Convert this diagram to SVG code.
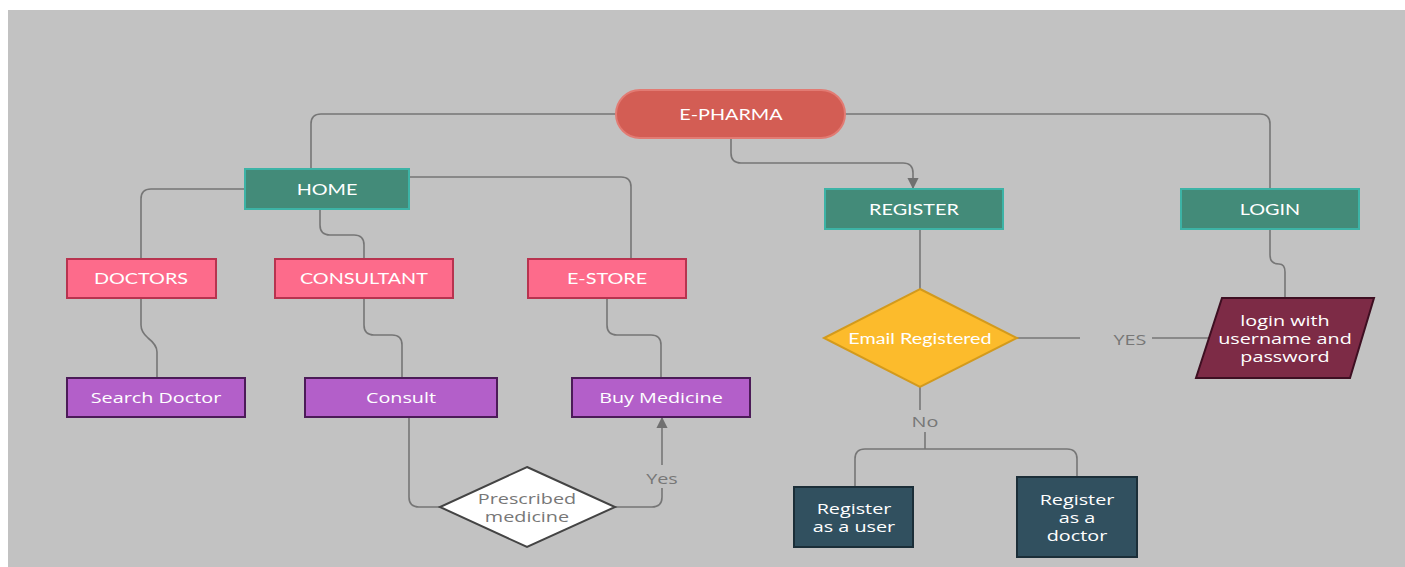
<svg xmlns="http://www.w3.org/2000/svg" width="1405" height="567" viewBox="0 0 1405 567">
<defs>
<marker id="arr" viewBox="0 0 10 10" refX="9" refY="5" markerWidth="7" markerHeight="7" orient="auto-start-reverse" markerUnits="strokeWidth">
<path d="M0,0 L10,5 L0,10 z" fill="#707070"/>
</marker>
<style>
.c{fill:none;stroke:#767676;stroke-width:1.6}
text{transform-box:fill-box;transform-origin:center;transform:scaleX(1.32)}
.lt{font-family:Lato,"Open Sans",sans-serif;font-size:15px;fill:#fff;text-anchor:middle;dominant-baseline:central}
.os{font-family:"Open Sans",Lato,sans-serif;font-size:15px;fill:#fff;text-anchor:middle;dominant-baseline:central}
.lbl{font-family:"Open Sans",Lato,sans-serif;font-size:15px;fill:#777;text-anchor:middle;dominant-baseline:central}
.teal{fill:#438b79;stroke:#3db3a6;stroke-width:2}
.pink{fill:#fd6b8b;stroke:#b8334f;stroke-width:2}
.purp{fill:#b35fc9;stroke:#4c1b58;stroke-width:2}
.navy{fill:#31505f;stroke:#1b2e38;stroke-width:2}
</style>
</defs>
<rect x="0" y="0" width="1405" height="567" fill="#fff"/>
<rect x="8" y="10" width="1397" height="557" fill="#c2c2c2"/>

<g id="connectors">
<path class="c" d="M616,114 H321 Q311,114 311,124 V169"/>
<path class="c" d="M845,114 H1260 Q1270,114 1270,124 V189"/>
<path class="c" d="M731,138 V153 Q731,163 741,163 H903 Q913,163 913,173 V188" marker-end="url(#arr)"/>
<path class="c" d="M245,189 H151 Q141,189 141,199 V259"/>
<path class="c" d="M320,209 V225 Q320,235 330,235 H354 Q364,235 364,245 V259"/>
<path class="c" d="M409,177 H621 Q631,177 631,187 V259"/>
<path class="c" d="M141,298 V325 Q141,332 148,338 Q157,345 157,352 V378"/>
<path class="c" d="M364,298 V325 Q364,335 374,335 H392 Q402,335 402,345 V378"/>
<path class="c" d="M607,298 V325 Q607,335 617,335 H651 Q661,335 661,345 V378"/>
<path class="c" d="M920,229 V289"/>
<path class="c" d="M1270,229 V255 Q1270,264 1279,264 Q1285,264 1285,272 V298"/>
<path class="c" d="M1017,338 H1080"/>
<path class="c" d="M1152,338 H1210"/>
<path class="c" d="M920,387 V410"/>
<path class="c" d="M925,432 V449"/>
<path class="c" d="M855,487 V459 Q855,449 865,449 H1067 Q1077,449 1077,459 V477"/>
<path class="c" d="M409,417 V497 Q409,507 419,507 H440"/>
<path class="c" d="M615,507 H652 Q662,507 662,497 V488"/>
<path class="c" d="M662,465 V418" marker-end="url(#arr)"/>
<text class="lbl" x="1130" y="339">YES</text>
<text class="lbl" x="925" y="421">No</text>
<text class="lbl" x="662" y="478">Yes</text>
</g>

<g id="epharma">
<rect x="616" y="90" width="229" height="48" rx="24" fill="#d35d54" stroke="#e27b73" stroke-width="2"/>
<text class="lt" x="731" y="114">E-PHARMA</text>
</g>
<g id="home">
<rect class="teal" x="245" y="169" width="164" height="40"/>
<text class="lt" x="327" y="189">HOME</text>
</g>
<g id="register">
<rect class="teal" x="825" y="189" width="178" height="40"/>
<text class="lt" x="914" y="209">REGISTER</text>
</g>
<g id="login">
<rect class="teal" x="1181" y="189" width="178" height="40"/>
<text class="lt" x="1270" y="209">LOGIN</text>
</g>
<g id="doctors">
<rect class="pink" x="67" y="259" width="149" height="39"/>
<text class="lt" x="141" y="278">DOCTORS</text>
</g>
<g id="consultant">
<rect class="pink" x="275" y="259" width="178" height="39"/>
<text class="lt" x="364" y="278">CONSULTANT</text>
</g>
<g id="estore">
<rect class="pink" x="528" y="259" width="158" height="39"/>
<text class="lt" x="607" y="278">E-STORE</text>
</g>
<g id="search-doctor">
<rect class="purp" x="67" y="378" width="178" height="39"/>
<text class="os" x="156" y="397">Search Doctor</text>
</g>
<g id="consult">
<rect class="purp" x="305" y="378" width="192" height="39"/>
<text class="os" x="401" y="397">Consult</text>
</g>
<g id="buy-medicine">
<rect class="purp" x="572" y="378" width="178" height="39"/>
<text class="os" x="661" y="397">Buy Medicine</text>
</g>
<g id="email-registered">
<polygon points="920,289 1017,338 920,387 824,338" fill="#fcbb2c" stroke="#d39a1c" stroke-width="2"/>
<text class="lt" x="920" y="338">Email Registered</text>
</g>
<g id="login-with">
<polygon points="1222,298 1374,298 1350,378 1196,378" fill="#7d2b46" stroke="#3e0f22" stroke-width="2"/>
<text class="os" x="1285" y="320">login with</text>
<text class="os" x="1285" y="338">username and</text>
<text class="os" x="1285" y="356">password</text>
</g>
<g id="prescribed">
<polygon points="527,467 615,507 527,547 440,507" fill="#fff" stroke="#444" stroke-width="2"/>
<text class="os" x="527" y="498" style="fill:#777">Prescribed</text>
<text class="os" x="527" y="516" style="fill:#777">medicine</text>
</g>
<g id="reg-user">
<rect class="navy" x="794" y="487" width="119" height="60"/>
<text class="os" x="854" y="508">Register</text>
<text class="os" x="854" y="526">as a user</text>
</g>
<g id="reg-doctor">
<rect class="navy" x="1017" y="477" width="120" height="80"/>
<text class="os" x="1077" y="499">Register</text>
<text class="os" x="1077" y="517">as a</text>
<text class="os" x="1077" y="535">doctor</text>
</g>
</svg>
